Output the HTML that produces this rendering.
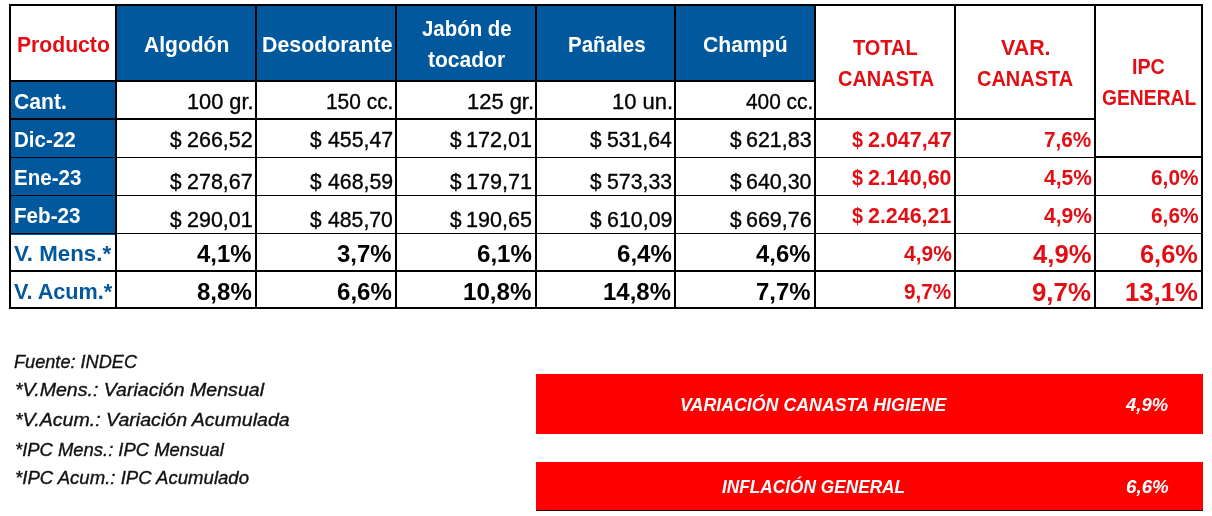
<!DOCTYPE html>
<html lang="es"><head><meta charset="utf-8"><title>Canasta Higiene</title>
<style>
*{margin:0;padding:0;box-sizing:border-box}
html,body{width:1212px;height:516px;background:#fff;overflow:hidden}
body{position:relative;font-family:"Liberation Sans",sans-serif;color:#000}
#txt{position:absolute;left:0;top:0;width:1212px;height:516px;will-change:transform}
.r{position:absolute}
.k{background:#000}
.bl{background:#02589d}
.bar{background:#ff0000}
.t{position:absolute;white-space:nowrap;line-height:0;height:0;transform-origin:0 0;display:block}
.t{-webkit-text-stroke:0.35px currentColor}
.b{font-weight:bold;-webkit-text-stroke:0}
.i{font-style:italic}
</style></head>
<body>
<div class="r bl" style="left:115px;top:4px;width:701px;height:78px"></div>
<div class="r bl" style="left:9px;top:80px;width:108px;height:155px"></div>
<div class="r bar" style="left:536px;top:374px;width:667px;height:60.4px"></div>
<div class="r bar" style="left:536px;top:462px;width:667px;height:48px"></div>
<div class="r" style="left:536px;top:509.6px;width:667px;height:1.2px;background:#2b0000"></div>
<div class="r k" style="left:9px;top:4px;width:1194px;height:2px"></div>
<div class="r k" style="left:9px;top:307px;width:1194px;height:2px"></div>
<div class="r k" style="left:9px;top:4px;width:2px;height:305px"></div>
<div class="r k" style="left:115px;top:4px;width:2px;height:305px"></div>
<div class="r k" style="left:255px;top:4px;width:2px;height:305px"></div>
<div class="r k" style="left:395px;top:4px;width:2px;height:305px"></div>
<div class="r k" style="left:535px;top:4px;width:2px;height:305px"></div>
<div class="r k" style="left:674px;top:4px;width:2px;height:305px"></div>
<div class="r k" style="left:814px;top:4px;width:2px;height:305px"></div>
<div class="r k" style="left:954px;top:4px;width:2px;height:305px"></div>
<div class="r k" style="left:1094px;top:4px;width:2px;height:305px"></div>
<div class="r k" style="left:1201px;top:4px;width:2px;height:305px"></div>
<div class="r k" style="left:9px;top:80px;width:807px;height:2px"></div>
<div class="r k" style="left:9px;top:118px;width:1087px;height:2px"></div>
<div class="r k" style="left:9px;top:157px;width:1087px;height:1px"></div>
<div class="r k" style="left:1094px;top:156px;width:109px;height:2px"></div>
<div class="r k" style="left:9px;top:195px;width:1194px;height:1px"></div>
<div class="r k" style="left:9px;top:233px;width:1194px;height:1px"></div>
<div class="r k" style="left:9px;top:270px;width:1194px;height:2px"></div>
<div id="txt">
<span class="t b" style="left:17.33px;top:44.70px;font-size:21.58px;color:#e30d14;transform:scaleX(0.9801)">Producto</span>
<span class="t b" style="left:143.78px;top:44.55px;font-size:21.58px;color:#fff;transform:scaleX(0.9749)">Algodón</span>
<span class="t b" style="left:261.61px;top:44.70px;font-size:21.58px;color:#fff;transform:scaleX(0.9896)">Desodorante</span>
<span class="t b" style="left:421.59px;top:28.70px;font-size:21.58px;color:#fff;transform:scaleX(0.9462)">Jabón de</span>
<span class="t b" style="left:428.49px;top:59.70px;font-size:21.58px;color:#fff;transform:scaleX(0.9743)">tocador</span>
<span class="t b" style="left:567.67px;top:44.70px;font-size:21.58px;color:#fff;transform:scaleX(0.9508)">Pañales</span>
<span class="t b" style="left:703.15px;top:44.70px;font-size:21.58px;color:#fff;transform:scaleX(0.9816)">Champú</span>
<span class="t b" style="left:853.30px;top:47.60px;font-size:21.58px;color:#e30d14;transform:scaleX(0.9254)">TOTAL</span>
<span class="t b" style="left:837.70px;top:78.60px;font-size:21.58px;color:#e30d14;transform:scaleX(0.9262)">CANASTA</span>
<span class="t b" style="left:1001.39px;top:47.60px;font-size:21.58px;color:#e30d14;transform:scaleX(0.9919)">VAR.</span>
<span class="t b" style="left:977.20px;top:78.60px;font-size:21.58px;color:#e30d14;transform:scaleX(0.9262)">CANASTA</span>
<span class="t b" style="left:1132.22px;top:66.85px;font-size:21.58px;color:#e30d14;transform:scaleX(0.9121)">IPC</span>
<span class="t b" style="left:1101.73px;top:97.60px;font-size:21.58px;color:#e30d14;transform:scaleX(0.8934)">GENERAL</span>
<span class="t b" style="left:14.20px;top:101.70px;font-size:21.58px;color:#fff;transform:scaleX(0.9810)">Cant.</span>
<span class="t" style="left:186.87px;top:101.75px;font-size:21.74px;color:#000000;transform:scaleX(1.0009)">100 gr.</span>
<span class="t" style="left:325.93px;top:101.75px;font-size:21.74px;color:#000000;transform:scaleX(0.9617)">150 cc.</span>
<span class="t" style="left:466.86px;top:101.75px;font-size:21.74px;color:#000000;transform:scaleX(1.0089)">125 gr.</span>
<span class="t" style="left:611.85px;top:101.75px;font-size:21.74px;color:#000000;transform:scaleX(1.0105)">10 un.</span>
<span class="t" style="left:745.58px;top:101.75px;font-size:21.74px;color:#000000;transform:scaleX(0.9595)">400 cc.</span>
<span class="t b" style="left:14.26px;top:139.60px;font-size:21.58px;color:#fff;transform:scaleX(0.9537)">Dic-22</span>
<span class="t" style="left:170.39px;top:139.55px;font-size:21.74px;color:#000000;transform:scaleX(0.9544)">$</span>
<span class="t" style="left:186.92px;top:139.55px;font-size:21.74px;color:#000000;transform:scaleX(0.9891)">266,52</span>
<span class="t" style="left:310.39px;top:139.55px;font-size:21.74px;color:#000000;transform:scaleX(0.9544)">$</span>
<span class="t" style="left:327.57px;top:139.55px;font-size:21.74px;color:#000000;transform:scaleX(0.9792)">455,47</span>
<span class="t" style="left:450.39px;top:139.55px;font-size:21.74px;color:#000000;transform:scaleX(0.9544)">$</span>
<span class="t" style="left:466.38px;top:139.55px;font-size:21.74px;color:#000000;transform:scaleX(0.9928)">172,01</span>
<span class="t" style="left:590.39px;top:139.55px;font-size:21.74px;color:#000000;transform:scaleX(0.9544)">$</span>
<span class="t" style="left:607.15px;top:139.55px;font-size:21.74px;color:#000000;transform:scaleX(0.9746)">531,64</span>
<span class="t" style="left:729.59px;top:139.55px;font-size:21.74px;color:#000000;transform:scaleX(0.9544)">$</span>
<span class="t" style="left:746.13px;top:139.55px;font-size:21.74px;color:#000000;transform:scaleX(0.9874)">621,83</span>
<span class="t b" style="left:851.50px;top:139.55px;font-size:21.58px;color:#e30d14;transform:scaleX(0.9180)">$</span>
<span class="t b" style="left:868.26px;top:139.55px;font-size:21.58px;color:#e30d14;transform:scaleX(0.9954)">2.047,47</span>
<span class="t b" style="left:1044.27px;top:139.65px;font-size:21.58px;color:#e30d14;transform:scaleX(0.9622)">7,6%</span>
<span class="t b" style="left:14.26px;top:177.50px;font-size:21.58px;color:#fff;transform:scaleX(0.9534)">Ene-23</span>
<span class="t" style="left:170.39px;top:181.50px;font-size:21.74px;color:#000000;transform:scaleX(0.9544)">$</span>
<span class="t" style="left:186.92px;top:181.50px;font-size:21.74px;color:#000000;transform:scaleX(0.9891)">278,67</span>
<span class="t" style="left:310.39px;top:181.50px;font-size:21.74px;color:#000000;transform:scaleX(0.9544)">$</span>
<span class="t" style="left:327.57px;top:181.50px;font-size:21.74px;color:#000000;transform:scaleX(0.9792)">468,59</span>
<span class="t" style="left:450.39px;top:181.50px;font-size:21.74px;color:#000000;transform:scaleX(0.9544)">$</span>
<span class="t" style="left:466.38px;top:181.50px;font-size:21.74px;color:#000000;transform:scaleX(0.9928)">179,71</span>
<span class="t" style="left:590.39px;top:181.50px;font-size:21.74px;color:#000000;transform:scaleX(0.9544)">$</span>
<span class="t" style="left:607.15px;top:181.50px;font-size:21.74px;color:#000000;transform:scaleX(0.9795)">573,33</span>
<span class="t" style="left:729.59px;top:181.50px;font-size:21.74px;color:#000000;transform:scaleX(0.9544)">$</span>
<span class="t" style="left:746.13px;top:181.50px;font-size:21.74px;color:#000000;transform:scaleX(0.9858)">640,30</span>
<span class="t b" style="left:851.50px;top:177.55px;font-size:21.58px;color:#e30d14;transform:scaleX(0.9180)">$</span>
<span class="t b" style="left:868.26px;top:177.55px;font-size:21.58px;color:#e30d14;transform:scaleX(0.9941)">2.140,60</span>
<span class="t b" style="left:1043.58px;top:177.65px;font-size:21.58px;color:#e30d14;transform:scaleX(0.9762)">4,5%</span>
<span class="t b" style="left:1151.07px;top:177.65px;font-size:21.58px;color:#e30d14;transform:scaleX(0.9663)">6,0%</span>
<span class="t b" style="left:14.26px;top:215.55px;font-size:21.58px;color:#fff;transform:scaleX(0.9558)">Feb-23</span>
<span class="t" style="left:170.39px;top:219.50px;font-size:21.74px;color:#000000;transform:scaleX(0.9544)">$</span>
<span class="t" style="left:186.92px;top:219.50px;font-size:21.74px;color:#000000;transform:scaleX(0.9891)">290,01</span>
<span class="t" style="left:310.39px;top:219.50px;font-size:21.74px;color:#000000;transform:scaleX(0.9544)">$</span>
<span class="t" style="left:327.58px;top:219.50px;font-size:21.74px;color:#000000;transform:scaleX(0.9759)">485,70</span>
<span class="t" style="left:450.39px;top:219.50px;font-size:21.74px;color:#000000;transform:scaleX(0.9544)">$</span>
<span class="t" style="left:466.38px;top:219.50px;font-size:21.74px;color:#000000;transform:scaleX(0.9911)">190,65</span>
<span class="t" style="left:590.39px;top:219.50px;font-size:21.74px;color:#000000;transform:scaleX(0.9544)">$</span>
<span class="t" style="left:606.93px;top:219.50px;font-size:21.74px;color:#000000;transform:scaleX(0.9845)">610,09</span>
<span class="t" style="left:729.59px;top:219.50px;font-size:21.74px;color:#000000;transform:scaleX(0.9544)">$</span>
<span class="t" style="left:746.13px;top:219.50px;font-size:21.74px;color:#000000;transform:scaleX(0.9874)">669,76</span>
<span class="t b" style="left:851.50px;top:215.55px;font-size:21.58px;color:#e30d14;transform:scaleX(0.9180)">$</span>
<span class="t b" style="left:868.26px;top:215.55px;font-size:21.58px;color:#e30d14;transform:scaleX(0.9915)">2.246,21</span>
<span class="t b" style="left:1043.58px;top:215.65px;font-size:21.58px;color:#e30d14;transform:scaleX(0.9762)">4,9%</span>
<span class="t b" style="left:1151.07px;top:215.65px;font-size:21.58px;color:#e30d14;transform:scaleX(0.9663)">6,6%</span>
<span class="t b" style="left:14.39px;top:253.50px;font-size:21.58px;color:#02589d;transform:scaleX(1.0332)">V. Mens.*</span>
<span class="t b" style="left:197.14px;top:253.55px;font-size:24.17px;color:#000000;transform:scaleX(0.9880)">4,1%</span>
<span class="t b" style="left:337.02px;top:253.55px;font-size:24.17px;color:#000000;transform:scaleX(0.9902)">3,7%</span>
<span class="t b" style="left:476.66px;top:253.55px;font-size:24.17px;color:#000000;transform:scaleX(0.9969)">6,1%</span>
<span class="t b" style="left:616.66px;top:253.55px;font-size:24.17px;color:#000000;transform:scaleX(0.9969)">6,4%</span>
<span class="t b" style="left:756.14px;top:253.55px;font-size:24.17px;color:#000000;transform:scaleX(0.9880)">4,6%</span>
<span class="t b" style="left:903.59px;top:253.65px;font-size:21.58px;color:#e30d14;transform:scaleX(0.9721)">4,9%</span>
<span class="t b" style="left:1032.61px;top:253.90px;font-size:26.47px;color:#e30d14;transform:scaleX(0.9695)">4,9%</span>
<span class="t b" style="left:1140.01px;top:253.90px;font-size:26.47px;color:#e30d14;transform:scaleX(0.9595)">6,6%</span>
<span class="t b" style="left:14.39px;top:291.60px;font-size:21.58px;color:#02589d;transform:scaleX(1.0033)">V. Acum.*</span>
<span class="t b" style="left:196.78px;top:291.60px;font-size:24.17px;color:#000000;transform:scaleX(0.9947)">8,8%</span>
<span class="t b" style="left:336.66px;top:291.60px;font-size:24.17px;color:#000000;transform:scaleX(0.9969)">6,6%</span>
<span class="t b" style="left:463.05px;top:291.60px;font-size:24.17px;color:#000000;transform:scaleX(0.9999)">10,8%</span>
<span class="t b" style="left:603.06px;top:291.60px;font-size:24.17px;color:#000000;transform:scaleX(0.9924)">14,8%</span>
<span class="t b" style="left:756.04px;top:291.60px;font-size:24.17px;color:#000000;transform:scaleX(0.9898)">7,7%</span>
<span class="t b" style="left:904.08px;top:291.70px;font-size:21.58px;color:#e30d14;transform:scaleX(0.9620)">9,7%</span>
<span class="t b" style="left:1032.22px;top:292.00px;font-size:26.47px;color:#e30d14;transform:scaleX(0.9761)">9,7%</span>
<span class="t b" style="left:1124.96px;top:292.00px;font-size:26.47px;color:#e30d14;transform:scaleX(0.9720)">13,1%</span>
<span class="t i" style="left:14.46px;top:361.55px;font-size:18.70px;color:#111111;transform:scaleX(0.9711)">Fuente: INDEC</span>
<span class="t i" style="left:15.22px;top:389.70px;font-size:18.70px;color:#111111;transform:scaleX(1.0469)">*V.Mens.: Variación Mensual</span>
<span class="t i" style="left:15.22px;top:419.55px;font-size:18.70px;color:#111111;transform:scaleX(1.0483)">*V.Acum.: Variación Acumulada</span>
<span class="t i" style="left:15.29px;top:449.55px;font-size:18.70px;color:#111111;transform:scaleX(0.9855)">*IPC Mens.: IPC Mensual</span>
<span class="t i" style="left:15.28px;top:477.65px;font-size:18.70px;color:#111111;transform:scaleX(0.9941)">*IPC Acum.: IPC Acumulado</span>
<span class="t b i" style="left:679.68px;top:404.65px;font-size:18.84px;color:#fff;transform:scaleX(0.9444)">VARIACIÓN CANASTA HIGIENE</span>
<span class="t b i" style="left:1126.37px;top:404.70px;font-size:18.84px;color:#fff;transform:scaleX(0.9798)">4,9%</span>
<span class="t b i" style="left:722.04px;top:486.65px;font-size:18.84px;color:#fff;transform:scaleX(0.9165)">INFLACIÓN GENERAL</span>
<span class="t b i" style="left:1125.66px;top:486.70px;font-size:18.84px;color:#fff;transform:scaleX(0.9966)">6,6%</span>
</div>
</body></html>
